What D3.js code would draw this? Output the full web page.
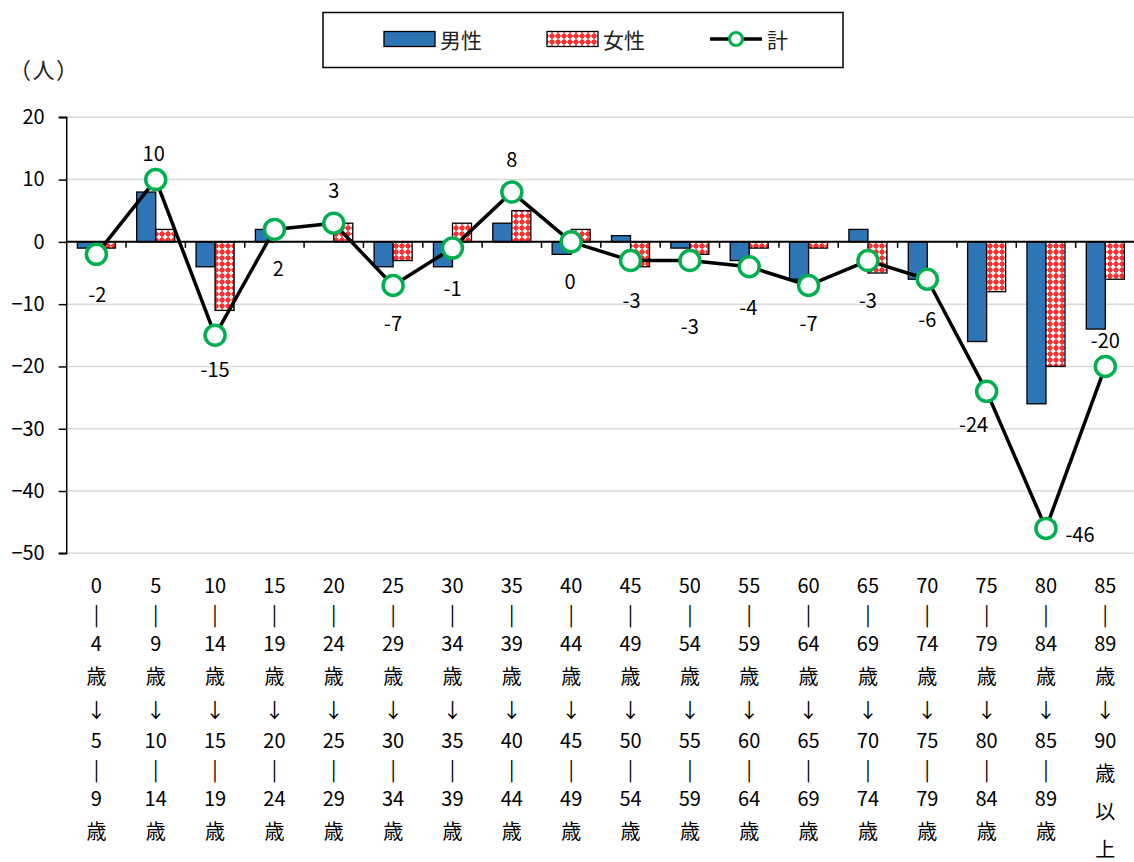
<!DOCTYPE html>
<html>
<head>
<meta charset="utf-8">
<script src="https://cdn.jsdelivr.net/npm/d3@7"></script>
<style>
  html, body { margin: 0; padding: 0; background: #ffffff; }
  svg { display: block; font-family: "Noto Sans CJK JP", "Noto Sans", sans-serif; }
</style>
</head>
<body>
<svg id="chart" width="1134" height="862"></svg>
<script>
// ---------------- data ----------------
const categories = [
  "0\n|\n4\n歳\n↓\n5\n|\n9\n歳",
  "5\n|\n9\n歳\n↓\n10\n|\n14\n歳",
  "10\n|\n14\n歳\n↓\n15\n|\n19\n歳",
  "15\n|\n19\n歳\n↓\n20\n|\n24\n歳",
  "20\n|\n24\n歳\n↓\n25\n|\n29\n歳",
  "25\n|\n29\n歳\n↓\n30\n|\n34\n歳",
  "30\n|\n34\n歳\n↓\n35\n|\n39\n歳",
  "35\n|\n39\n歳\n↓\n40\n|\n44\n歳",
  "40\n|\n44\n歳\n↓\n45\n|\n49\n歳",
  "45\n|\n49\n歳\n↓\n50\n|\n54\n歳",
  "50\n|\n54\n歳\n↓\n55\n|\n59\n歳",
  "55\n|\n59\n歳\n↓\n60\n|\n64\n歳",
  "60\n|\n64\n歳\n↓\n65\n|\n69\n歳",
  "65\n|\n69\n歳\n↓\n70\n|\n74\n歳",
  "70\n|\n74\n歳\n↓\n75\n|\n79\n歳",
  "75\n|\n79\n歳\n↓\n80\n|\n84\n歳",
  "80\n|\n84\n歳\n↓\n85\n|\n89\n歳",
  "85\n|\n89\n歳\n↓\n90\n歳\n以\n上"
];
const seriesNames = ["男性", "女性", "計"];
const male   = [-1, 8, -4, 2, 0, -4, -4, 3, -2, 1, -1, -3, -6, 2, -6, -16, -26, -14];
const female = [-1, 2, -11, 0, 3, -3, 3, 5, 2, -4, -2, -1, -1, -5, 0, -8, -20, -6];
const total  = [-2, 10, -15, 2, 3, -7, -1, 8, 0, -3, -3, -4, -7, -3, -6, -24, -46, -20];
const yTicks = [20, 10, 0, -10, -20, -30, -40, -50];
const yUnit = "（人）";

// ---------------- layout ----------------
const W = 1134, H = 862;
const plot = { left: 66.7, right: 1135, top: 117.3, bottom: 553.3 };
// data-label nudges relative to each point (dx, dy in px)
const labelNudge = [
  [1, 39], [-2, -27], [0, 33], [4, 38], [0, -33.5], [0, 36.6], [0, 39], [0, -34], [-1, 38.5],
  [1, 39], [0, 65], [-1, 40], [0, 37], [0, 39], [0, 39], [-13, 32], [34, 5], [0, -27]
];

const svg = d3.select("#chart");
svg.append("rect").attr("width", W).attr("height", H).attr("fill", "#fff");

const defs = svg.append("defs");
const pat = defs.append("pattern").attr("id", "femalePat")
  .attr("patternUnits", "userSpaceOnUse").attr("width", 6).attr("height", 6);
pat.append("rect").attr("width", 6).attr("height", 6).attr("fill", "#FF3030");
pat.append("rect").attr("x", 0.75).attr("y", 2).attr("width", 4.5).attr("height", 2).attr("fill", "#ffffff");
pat.append("rect").attr("x", 2).attr("y", 0.75).attr("width", 2).attr("height", 4.5).attr("fill", "#ffffff");

const x = d3.scaleBand().domain(d3.range(categories.length))
  .range([plot.left, plot.right]).paddingInner(0).paddingOuter(0);
const x1 = d3.scaleBand().domain(["m", "f"]).range([0, x.bandwidth()])
  .paddingInner(0).paddingOuter(0.56);
const y = d3.scaleLinear().domain([-50, 20]).range([plot.bottom, plot.top]);

// gridlines
svg.append("g").selectAll("line").data(yTicks.filter(d => d !== 0)).join("line")
  .attr("x1", plot.left).attr("x2", W)
  .attr("y1", d => y(d)).attr("y2", d => y(d))
  .attr("stroke", "#d9d9d9").attr("stroke-width", 1.5);

// y axis
const yAxis = d3.axisLeft(y).tickValues(yTicks).tickSize(8).tickPadding(14).tickFormat(d3.format("d"));
const gy = svg.append("g").attr("transform", `translate(${plot.left},0)`).call(yAxis);
gy.select(".domain").attr("stroke", "#000").attr("stroke-width", 1.5).attr("d", `M-8,${plot.top}H0V${plot.bottom}H-8`);
gy.selectAll(".tick line").attr("stroke", "#000").attr("stroke-width", 1.5);
gy.selectAll(".tick text").attr("fill", "#000").style("font-size", "20px")
  .style("font-family", '"Noto Sans CJK JP", sans-serif');

// bars
const barG = svg.append("g");
function bars(vals, key, fill) {
  barG.selectAll("rect." + key).data(vals).join("rect").attr("class", key)
    .attr("x", (d, i) => x(i) + x1(key))
    .attr("width", x1.bandwidth())
    .attr("y", d => y(Math.max(0, d)))
    .attr("height", d => Math.abs(y(d) - y(0)))
    .attr("fill", fill).attr("stroke", "#000").attr("stroke-width", 1.3);
}
bars(male, "m", "#2E75B6");
bars(female, "f", "url(#femalePat)");

// zero axis line and minor ticks
svg.append("line").attr("x1", plot.left).attr("x2", W)
  .attr("y1", y(0)).attr("y2", y(0)).attr("stroke", "#000").attr("stroke-width", 2);
svg.append("g").selectAll("line").data(d3.range(1, categories.length)).join("line")
  .attr("x1", i => x(i)).attr("x2", i => x(i))
  .attr("y1", y(0)).attr("y2", y(0) + 6)
  .attr("stroke", "#000").attr("stroke-width", 1.5);

// total line
const cx = i => x(i) + x.bandwidth() / 2;
svg.append("path").datum(total)
  .attr("d", d3.line().x((d, i) => cx(i)).y(d => y(d)))
  .attr("fill", "none").attr("stroke", "#000").attr("stroke-width", 3.5).attr("stroke-linejoin", "round");
svg.append("g").selectAll("circle").data(total).join("circle")
  .attr("cx", (d, i) => cx(i)).attr("cy", d => y(d)).attr("r", 10)
  .attr("fill", "#fff").attr("stroke", "#00B050").attr("stroke-width", 3.5);

// data labels
svg.append("g").selectAll("text").data(total).join("text")
  .attr("x", (d, i) => cx(i) + labelNudge[i][0])
  .attr("y", (d, i) => y(d) + labelNudge[i][1])
  .attr("text-anchor", "middle").attr("dominant-baseline", "central")
  .style("font-size", "20px").attr("fill", "#000")
  .text(d => d);

// x category labels (stacked vertical text)
const tokH = t => /^[0-9]+$/.test(t) || t === "|" ? 29 : (t === "↓" ? 30 : 38);
const xl = svg.append("g");
categories.forEach((c, i) => {
  const toks = c.split("\n");
  let yy = 584;
  toks.forEach((t, k) => {
    if (k > 0) yy += (tokH(toks[k - 1]) + tokH(t)) / 2;
    xl.append("text").attr("x", cx(i)).attr("y", yy)
      .attr("text-anchor", "middle").attr("dominant-baseline", "central")
      .style("font-size", "20px").attr("fill", "#000")
      .text(t);
  });
});

// unit label
svg.append("text").attr("x", 9).attr("y", 68).attr("dominant-baseline", "central")
  .style("font-size", "22px").style("letter-spacing", "1.5px").attr("fill", "#222")
  .text(yUnit);

// legend
const lg = svg.append("g");
lg.append("rect").attr("x", 323).attr("y", 12.5).attr("width", 520).attr("height", 55)
  .attr("fill", "#fff").attr("stroke", "#000").attr("stroke-width", 1.5);
lg.append("rect").attr("x", 384).attr("y", 31.5).attr("width", 51).attr("height", 15)
  .attr("fill", "#2E75B6").attr("stroke", "#000").attr("stroke-width", 1.3);
lg.append("text").attr("x", 440).attr("y", 39).attr("dominant-baseline", "central")
  .style("font-size", "21px").attr("fill", "#222").text(seriesNames[0]);
lg.append("rect").attr("x", 547).attr("y", 31.5).attr("width", 51).attr("height", 15)
  .attr("fill", "url(#femalePat)").attr("stroke", "#000").attr("stroke-width", 1.3);
lg.append("text").attr("x", 603).attr("y", 39).attr("dominant-baseline", "central")
  .style("font-size", "21px").attr("fill", "#222").text(seriesNames[1]);
lg.append("line").attr("x1", 710).attr("x2", 762).attr("y1", 39).attr("y2", 39)
  .attr("stroke", "#000").attr("stroke-width", 3.5);
lg.append("circle").attr("cx", 736).attr("cy", 39).attr("r", 6.5)
  .attr("fill", "#fff").attr("stroke", "#00B050").attr("stroke-width", 3);
lg.append("text").attr("x", 767).attr("y", 39).attr("dominant-baseline", "central")
  .style("font-size", "21px").attr("fill", "#222").text(seriesNames[2]);
</script>
</body>
</html>
